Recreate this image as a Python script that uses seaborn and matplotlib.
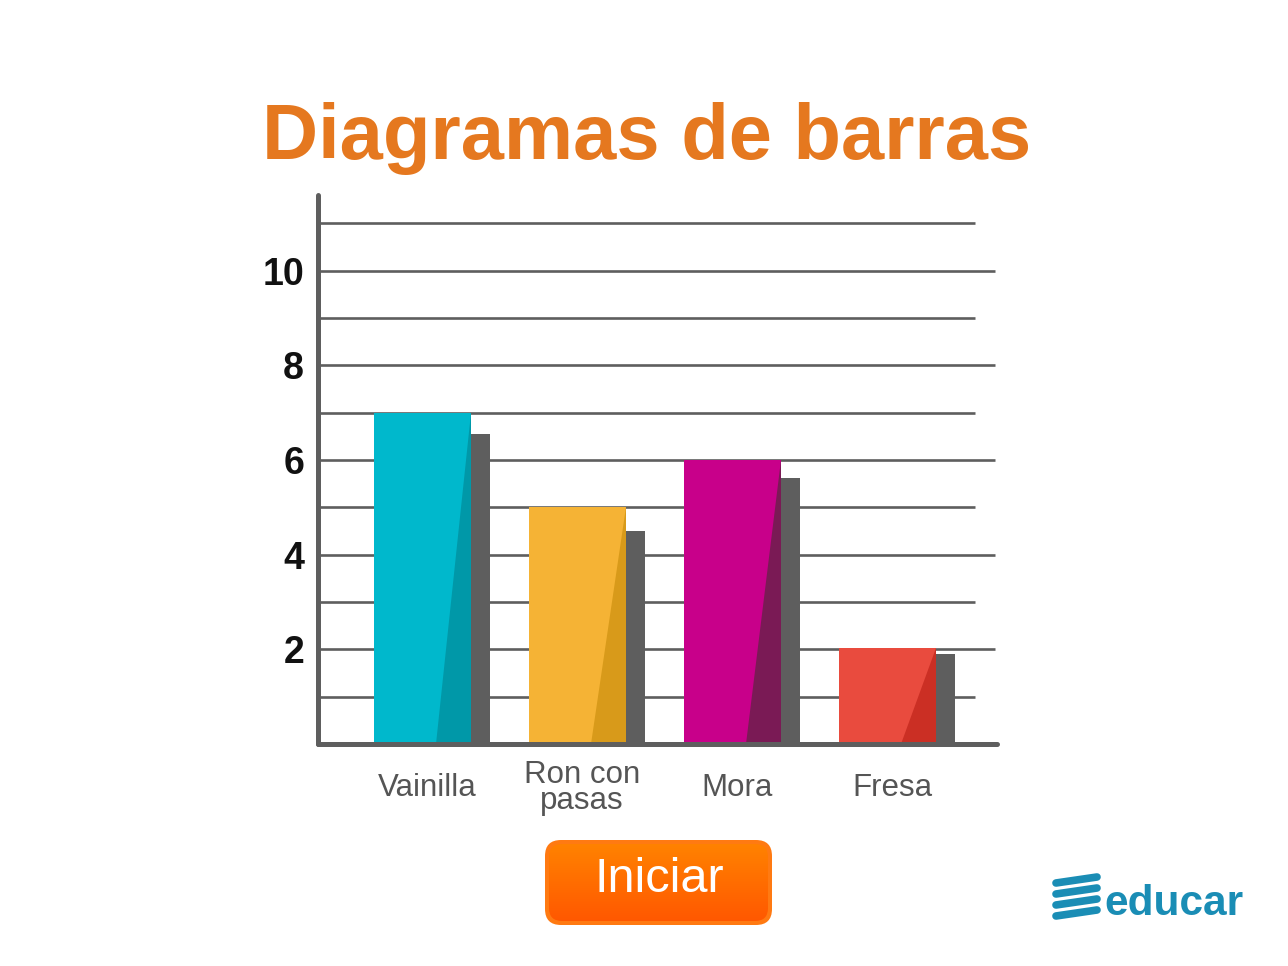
import numpy as np
import pandas as pd
import matplotlib
matplotlib.use("Agg")
import matplotlib.pyplot as plt
import seaborn as sns
from matplotlib.patches import FancyBboxPatch

# ---- data ----
categories = ["Vainilla", "Ron con\npasas", "Mora", "Fresa"]
values = [7, 5, 6, 2.03]
shadow_values = [6.55, 4.5, 5.62, 1.9]
bar_colors = ["#00B8CC", "#F5B335", "#C8008A", "#E94B3E"]
shade_colors = ["#0098A8", "#D89A1A", "#7A1A55", "#CB2F24"]
ytick_values = [2, 4, 6, 8, 10]
ytick_labels = ["2", "4", "6", "8", "10"]
grid_levels = list(range(1, 12))
title = "Diagramas de barras"
button_text = "Iniciar"
logo_text = "educar"

sns.set_theme(style="white")
plt.rcParams["font.family"] = ["Liberation Sans", "DejaVu Sans"]

W, H = 1288, 966
fig = plt.figure(figsize=(W / 100, H / 100), dpi=100)
fig.patch.set_facecolor("white")

ax = fig.add_axes([318 / W, (H - 744) / H, (997 - 318) / W, (744 - 195) / H])
ax.set_facecolor("white")

df = pd.DataFrame({"cat": categories, "val": values})
bw = 97 / 155
sw = 19 / 155
sns.barplot(data=df, x="cat", y="val", hue="cat", palette=bar_colors,
            width=bw, saturation=1, legend=False, ax=ax, zorder=3,
            linewidth=0, edgecolor="none")

pos = np.arange(len(categories))
# shadows
ax.bar(pos + bw / 2 + sw / 2, shadow_values, width=sw, color="#5E5E5E",
       zorder=2, linewidth=0)
# darker shading triangles
for i, (v, c) in enumerate(zip(values, shade_colors)):
    left = i - bw / 2
    ax.fill([left + 0.635 * bw, left + bw, left + bw], [0, 0, v],
            color=c, zorder=4, linewidth=0)

xmin, xmax = -104.5 / 155, (997 - 422.5) / 155
ax.set_xlim(xmin, xmax)
ax.set_ylim(0, 11.6)

# gridlines
for g in grid_levels:
    xe = (995 - 422.5) / 155 if g % 2 == 0 else (975 - 422.5) / 155
    ax.hlines(g, xmin, xe, color="#5E5E5E", linewidth=1.9, zorder=1)

for s in ["top", "right"]:
    ax.spines[s].set_visible(False)
for s in ["left", "bottom"]:
    ax.spines[s].set_color("#5E5E5E")
    ax.spines[s].set_linewidth(3.6)
    ax.spines[s].set_capstyle("round")
ax.spines["left"].set_zorder(6)
ax.spines["bottom"].set_zorder(6)

ax.set_yticks(ytick_values)
ax.set_yticklabels(ytick_labels, fontsize=27, fontweight="bold", color="#111111")
ax.set_xticks(pos + 0.03)
ax.set_xticklabels(categories, fontsize=22.5, color="#555555", va="center",
                   linespacing=0.82)
ax.tick_params(axis="y", length=0, pad=10)
ax.tick_params(axis="x", length=0, pad=31.5)
ax.set_xlabel("")
ax.set_ylabel("")
ax.grid(False)

# title
fig.text(646.5 / W, 1 - 159 / H, title, ha="center", va="baseline",
         fontsize=56, fontweight="bold", color="#E5781F")

# overlay for button & logo (pixel coordinates)
ov = fig.add_axes([0, 0, 1, 1], zorder=10)
ov.set_xlim(0, W)
ov.set_ylim(H, 0)
ov.axis("off")
ov.patch.set_alpha(0)

outer = FancyBboxPatch((545, 840), 227, 85, boxstyle="round,pad=0,rounding_size=16",
                       facecolor="#FF7A12", edgecolor="none", zorder=1)
ov.add_patch(outer)
inner = FancyBboxPatch((549, 844), 219, 77, boxstyle="round,pad=0,rounding_size=13",
                       facecolor="none", edgecolor="none", zorder=2)
ov.add_patch(inner)
grad = np.linspace(0, 1, 100).reshape(-1, 1)
img = ov.imshow(grad, extent=(549, 768, 921, 844), cmap=matplotlib.colors.LinearSegmentedColormap.from_list(
    "btn", ["#FF8200", "#FF5800"]), aspect="auto", zorder=2)
img.set_clip_path(inner)
ov.set_xlim(0, W)
ov.set_ylim(H, 0)
ov.text(659, 880, button_text, ha="center", va="center", fontsize=35,
        color="white", zorder=3)

teal = "#1A8DB5"
for k, y in enumerate([880, 891, 902, 913]):
    ov.plot([1056, 1097], [y + 3, y - 3], color=teal, linewidth=5.5,
            solid_capstyle="round", zorder=3)
ov.text(1104, 915, logo_text, ha="left", va="baseline", fontsize=30.5,
        fontweight="bold", color=teal, zorder=3)

fig.savefig("out.png", dpi=100, facecolor="white")
